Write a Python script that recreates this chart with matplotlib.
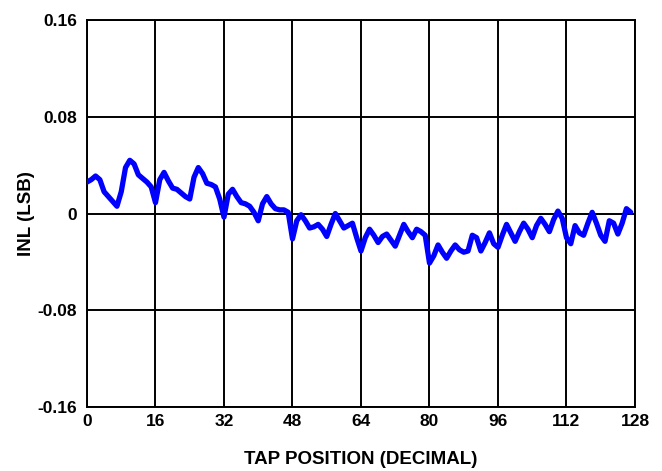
"""
INL vs tap position plot.
"""

import numpy as np
import matplotlib.pyplot as plt

plt.rcParams['font.family'] = ['Liberation Sans', 'DejaVu Sans']
plt.rcParams['font.weight'] = 'bold'

# INL (LSB) read at each tap position 0..127
tap = np.arange(128)
inl = [0.026, 0.028, 0.031, 0.028, 0.018, 0.014, 0.010, 0.006, 0.018, 0.038,
       0.044, 0.041, 0.032, 0.029, 0.026, 0.022, 0.009, 0.028, 0.034, 0.027,
       0.021, 0.020, 0.017, 0.014, 0.012, 0.030, 0.038, 0.033, 0.025, 0.024,
       0.022, 0.012, -0.003, 0.016, 0.020, 0.014, 0.009, 0.008, 0.006, 0.001,
       -0.006, 0.008, 0.014, 0.008, 0.004, 0.003, 0.003, 0.001, -0.021, -0.006,
       -0.001, -0.006, -0.012, -0.011, -0.009, -0.013, -0.019, -0.009, 0.000, -0.006,
       -0.012, -0.010, -0.008, -0.020, -0.031, -0.020, -0.013, -0.018, -0.024, -0.019,
       -0.017, -0.022, -0.027, -0.018, -0.009, -0.015, -0.020, -0.013, -0.015, -0.018,
       -0.041, -0.035, -0.026, -0.032, -0.037, -0.031, -0.026, -0.030, -0.032, -0.031,
       -0.018, -0.020, -0.031, -0.024, -0.016, -0.025, -0.028, -0.018, -0.009, -0.016,
       -0.023, -0.015, -0.008, -0.013, -0.020, -0.010, -0.004, -0.009, -0.015, -0.005,
       0.002, -0.004, -0.020, -0.025, -0.010, -0.016, -0.018, -0.008, 0.001, -0.008,
       -0.018, -0.023, -0.006, -0.008, -0.017, -0.008, 0.004, 0.001]

x_ticks = [0, 16, 32, 48, 64, 80, 96, 112, 128]
y_ticks = [-0.16, -0.08, 0, 0.08, 0.16]
y_labels = ['-0.16', '-0.08', '0', '0.08', '0.16']

fig = plt.figure(figsize=(6.62, 4.71), dpi=100)
ax = fig.add_axes([0.1314, 0.1359, 0.8278, 0.8216])

ax.plot(tap, inl, color='#0000ff', lw=3.8, solid_joinstyle='round',
        solid_capstyle='round', zorder=3)

ax.set_xlim(0, 128)
ax.set_ylim(-0.16, 0.16)
ax.set_xticks(x_ticks)
ax.set_yticks(y_ticks)
ax.set_yticklabels(y_labels)
ax.grid(True, color='black', lw=1.4)
ax.tick_params(length=0, labelsize=12.5)
ax.tick_params(axis='x', pad=5)
ax.tick_params(axis='y', pad=7)
for s in ax.spines.values():
    s.set_linewidth(1.4)

ax.set_xlabel('TAP POSITION (DECIMAL)', fontsize=13.5, fontweight='bold', labelpad=16)
ax.set_ylabel('INL (LSB)', fontsize=13.5, fontweight='bold', labelpad=2)

fig.savefig('out.png', dpi=100)
